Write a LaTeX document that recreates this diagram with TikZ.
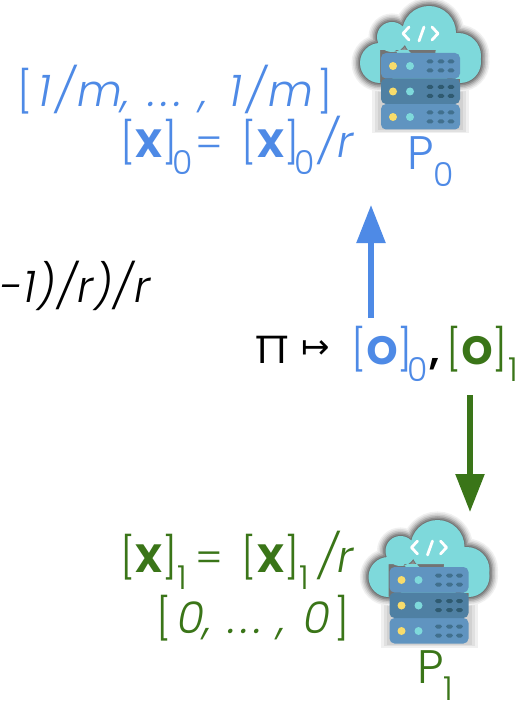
\documentclass[tikz,border=0pt]{standalone}
\usepackage{fontspec}
\setmainfont{Poppins Light}[ItalicFont={Poppins Light Italic},BoldFont={Poppins SemiBold}]
\newfontfamily\symfont{DejaVu Sans}
\usetikzlibrary{arrows.meta}
\definecolor{pblue}{HTML}{4E8AE6}
\definecolor{pgreen}{HTML}{3A7518}
\definecolor{cloudc}{HTML}{7ED9DB}
\definecolor{srv}{HTML}{6094C0}
\definecolor{srvd}{HTML}{4F80A3}
\definecolor{holes}{HTML}{41708E}
\definecolor{holesd}{HTML}{2F5A70}
\definecolor{ledy}{HTML}{F8DC6B}
\newcommand{\sbs}[2][27pt]{\makebox[#1][c]{\raisebox{-17pt}{\fontsize{33}{33}\selectfont #2}}}
\newcommand{\brk}[1]{\makebox[49pt][s]{[\hfill{\fontsize{50}{50}\selectfont\bfseries #1}\hfill]}}
\newcommand{\eqs}{\makebox[26pt][c]{=}\hspace{20pt}}
\newcommand{\ovr}{\makebox[33pt][s]{\fontsize{44}{44}\selectfont\itshape /\hfill r}}
\newcommand{\itx}{\fontsize{44}{44}\selectfont\itshape}
\newcommand{\cloudshape}{(40,63) circle[radius=20] (52,37) circle[radius=15] (89,33) circle[radius=27] (120,62) circle[radius=21] (118,56) circle[radius=23]}
\newcommand{\srvrow}[3]{%
  \fill[#2,rounded corners=5pt] (41,#1) rectangle (120,#1+25.5);
  \fill[ledy] (53,#1+13) circle[radius=4];
  \fill[cloudc] (70,#1+13) circle[radius=4];
  \foreach \hx in {90,101,111}{
    \fill[#3,rounded corners=1.8pt] (\hx-3.4,#1+6.5) rectangle (\hx+3.4,#1+10.5);
    \fill[#3,rounded corners=1.8pt] (\hx-3.4,#1+15.5) rectangle (\hx+3.4,#1+19.5);
  }}
\newcommand{\servericon}[2]{%
  \begin{scope}[shift={(#1,#2)}]
    \foreach \w/\g in {9/94,6/88,3/82}{
      \fill[white!\g!black] (41-\w,70) rectangle (120+\w,129+\w/2);
    }
    \foreach \w/\g in {17/94,14/87,11/78,8/67,5/55,2/45}{
      \filldraw[line width=\w pt,white!\g!black] \cloudshape;
    }
    \fill[cloudc] \cloudshape (40,50) rectangle (120,83);
    \draw[white,line width=2.8pt,line cap=round,line join=round] (69,27) -- (63,33.5) -- (69,40);
    \draw[white,line width=2.8pt,line cap=round] (84,27) -- (79,41);
    \draw[white,line width=2.8pt,line cap=round,line join=round] (92,27) -- (98,33.5) -- (92,40);
    \srvrow{53}{srv}{holes}
    \srvrow{104}{srv}{holes}
    \srvrow{78.5}{srvd}{holesd}
  \end{scope}}
\begin{document}
\begin{tikzpicture}[x=1pt,y=-1pt,
  every node/.style={inner sep=0pt,outer sep=0pt},
  lbl/.style={font=\fontsize{41}{41}\selectfont,anchor=base east},
  bluel/.style={lbl,text=pblue},
  greenl/.style={lbl,text=pgreen},
  flow/.style={line width=5.5pt,-{Triangle[width=28pt,length=38pt]}}]
\useasboundingbox (0,0) rectangle (522,703);
\fill[white] (0,0) rectangle (522,703);
\servericon{340}{0}
\servericon{348.5}{514}
\node[bluel] (b1) at (333,107) {[\hspace{6pt}{\itx 1\hspace{4pt}/\hspace{3pt}m,\hspace{18pt}.\hspace{5pt}.\hspace{5pt}.\hspace{18pt},\hspace{22pt}1\hspace{4pt}/\hspace{3pt}m}\hspace{4pt}]};
\node[bluel] (b2) at (351,158) {\brk{x}\sbs{0}\eqs\brk{x}\sbs{0}\ovr};
\node[bluel,anchor=base west,font=\fontsize{47}{47}\selectfont] (p0) at (407,170) {P\raisebox{-17pt}{\fontsize{33}{33}\selectfont 0}};
\node[lbl,text=black,anchor=base west] (cut) at (0,302) {\makebox[150pt][s]{\itx -\hfill 1\hfill )\hfill /\hfill r\hfill )\hfill /\hfill r}};
\node[anchor=base west,font=\fontsize{50}{50}\selectfont] (pi) at (254,363) {π};
\node[anchor=base west,font=\fontsize{34}{34}\symfont] (mt) at (301,358) {↦};
\node[bluel,anchor=base west] (o0) at (351,364) {\makebox[52pt][s]{[\hfill{\fontsize{50}{50}\selectfont\bfseries o}\hfill]}\sbs[30pt]{0}};
\node[lbl,anchor=base west] (cm) at (429,364) {\textbf{,}};
\node[greenl,anchor=base west] (o1) at (446,364) {\makebox[52pt][s]{[\hfill{\fontsize{50}{50}\selectfont\bfseries o}\hfill]}\sbs[30pt]{1}};
\node[greenl] (g1) at (351,572) {\brk{x}\sbs{1}\eqs\brk{x}\sbs{1}\ovr};
\node[greenl] (g2) at (350,633) {[\hspace{6pt}{\itx 0,\hspace{16pt}.\hspace{5pt}.\hspace{5pt}.\hspace{16pt},\hspace{18pt}0}\hspace{4pt}]};
\node[greenl,anchor=base west,font=\fontsize{47}{47}\selectfont] (p1) at (417,683) {P\raisebox{-17pt}{\fontsize{33}{33}\selectfont 1}};
\coordinate (bs) at (371,318);
\coordinate (bt) at (371,205);
\coordinate (gs) at (470,395);
\coordinate (gt) at (470,512);
\draw[flow,pblue] (bs) -- (bt);
\draw[flow,pgreen] (gs) -- (gt);
\end{tikzpicture}
\end{document}
